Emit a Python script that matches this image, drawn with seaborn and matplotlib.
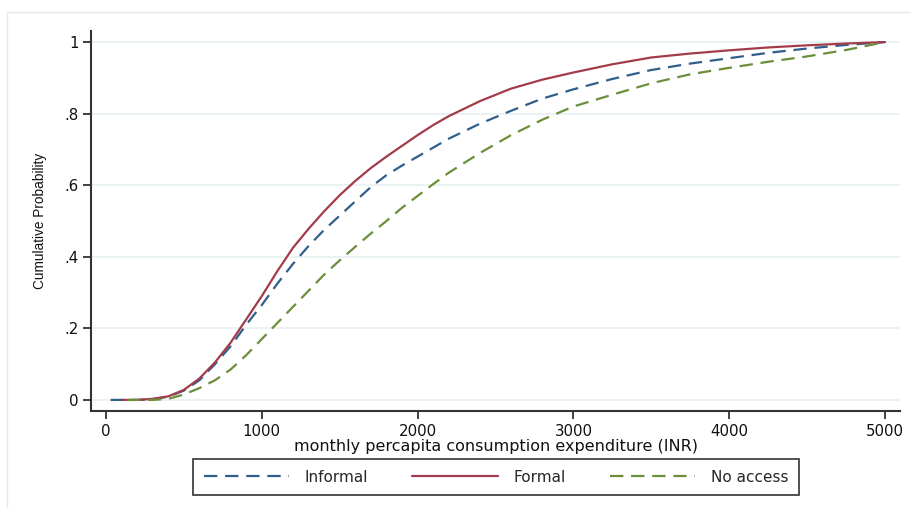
import matplotlib
matplotlib.use("Agg")
import matplotlib.pyplot as plt
import seaborn as sns
import pandas as pd
from matplotlib.patches import Rectangle

# ---- data ----
informal_x = [30, 200, 300, 400, 500, 600, 700, 800, 900, 1000, 1100, 1200, 1300, 1400,
              1500, 1600, 1700, 1800, 1900, 2000, 2200, 2400, 2600, 2800, 3000, 3250,
              3500, 3750, 4000, 4250, 4500, 4750, 5000]
informal_y = [0, 0, 0.002, 0.009, 0.026, 0.055, 0.10, 0.15, 0.21, 0.265, 0.325, 0.38, 0.43,
              0.475, 0.515, 0.555, 0.595, 0.628, 0.655, 0.68, 0.73, 0.772, 0.808, 0.842, 0.868,
              0.897, 0.922, 0.94, 0.955, 0.97, 0.982, 0.992, 1.0]

formal_x = [110, 200, 300, 400, 500, 600, 700, 800, 900, 1000, 1100, 1200, 1300, 1400,
            1500, 1600, 1700, 1800, 1900, 2000, 2100, 2200, 2400, 2600, 2800, 3000, 3250,
            3500, 3750, 4000, 4250, 4500, 4750, 5000]
formal_y = [0, 0, 0.003, 0.01, 0.028, 0.06, 0.105, 0.16, 0.225, 0.29, 0.36, 0.425, 0.478,
            0.527, 0.572, 0.612, 0.648, 0.68, 0.71, 0.74, 0.768, 0.793, 0.835, 0.87, 0.895,
            0.915, 0.938, 0.957, 0.968, 0.977, 0.985, 0.991, 0.996, 1.0]

noaccess_x = [135, 300, 400, 500, 600, 700, 800, 900, 1000, 1100, 1200, 1300, 1400, 1500,
              1600, 1700, 1800, 1900, 2000, 2100, 2200, 2400, 2600, 2800, 3000, 3250,
              3500, 3750, 4000, 4250, 4500, 4750, 5000]
noaccess_y = [0, 0, 0.003, 0.015, 0.033, 0.055, 0.085, 0.125, 0.17, 0.215, 0.26, 0.305, 0.35,
              0.39, 0.428, 0.465, 0.50, 0.537, 0.57, 0.603, 0.635, 0.69, 0.74, 0.783, 0.82,
              0.853, 0.885, 0.91, 0.928, 0.945, 0.96, 0.978, 1.0]

series_names = ["Informal", "Formal", "No access"]
x_ticks = [0, 1000, 2000, 3000, 4000, 5000]
y_ticks = [0, 0.2, 0.4, 0.6, 0.8, 1.0]
y_tick_labels = ["0", ".2", ".4", ".6", ".8", "1"]

colors = {"Informal": "#2f5f8a", "Formal": "#a33c4a", "No access": "#6b8e3a"}
styles = {"Informal": (0, (6, 3.5)), "Formal": "-", "No access": (0, (6, 3.5))}

df = pd.concat([
    pd.DataFrame({"x": informal_x, "y": informal_y, "group": "Informal"}),
    pd.DataFrame({"x": formal_x, "y": formal_y, "group": "Formal"}),
    pd.DataFrame({"x": noaccess_x, "y": noaccess_y, "group": "No access"}),
])

sns.set_style("white")
plt.rcParams["font.family"] = ["DejaVu Sans"]
plt.rcParams["xtick.major.size"] = 6
plt.rcParams["ytick.major.size"] = 6

fig = plt.figure(figsize=(9.12, 5.08), dpi=100)
fig.patch.set_facecolor("white")
# outer graph-region frame
fig.patches.append(Rectangle((7 / 912, -0.2), 2.0, 1.2 - 12 / 508,
                             transform=fig.transFigure, fill=False,
                             edgecolor="#e3ebee", linewidth=1.0, zorder=0))

ax = fig.add_axes([91 / 912, 1 - 411 / 508, (900 - 91) / 912, (411 - 31) / 508])

for name in series_names:
    sub = df[df["group"] == name]
    sns.lineplot(data=sub, x="x", y="y", ax=ax, color=colors[name],
                 linestyle=styles[name], linewidth=1.6, label=name,
                 estimator=None, sort=True)

ax.set_xlim(-96, 5096)
ax.set_ylim(-0.031, 1.031)
ax.set_xticks(x_ticks)
ax.set_xticklabels([str(t) for t in x_ticks])
ax.set_yticks(y_ticks)
ax.set_yticklabels(y_tick_labels)
ax.yaxis.grid(True, color="#e8f0f2", linewidth=1.2)
ax.xaxis.grid(False)
ax.set_axisbelow(True)

for s in ["top", "right"]:
    ax.spines[s].set_visible(False)
for s in ["left", "bottom"]:
    ax.spines[s].set_color("#333333")
    ax.spines[s].set_linewidth(1.5)

ax.tick_params(axis="both", which="major", direction="out", length=6, width=1.3,
               color="#333333", labelsize=10.8, labelcolor="#111111", pad=3,
               left=True, bottom=True)

ax.set_xlabel("monthly percapita consumption expenditure (INR)", fontsize=11.5,
              color="#111111", labelpad=0)
ax.set_ylabel("Cumulative Probability", fontsize=9.8,
              family=["Liberation Sans Narrow", "Liberation Sans", "DejaVu Sans"],
              color="#111111", labelpad=12)

ax.get_legend().remove()
handles, labels = ax.get_legend_handles_labels()
leg = fig.legend(handles, labels, loc="center", ncol=3,
                 bbox_to_anchor=(496 / 912, 1 - 477 / 508),
                 frameon=True, fancybox=False, edgecolor="black",
                 fontsize=11, handlelength=5.6, handletextpad=1.0,
                 columnspacing=2.9, borderpad=0.68, borderaxespad=0)
leg.get_frame().set_linewidth(1.2)

fig.savefig("out.png", dpi=100, facecolor="white")
